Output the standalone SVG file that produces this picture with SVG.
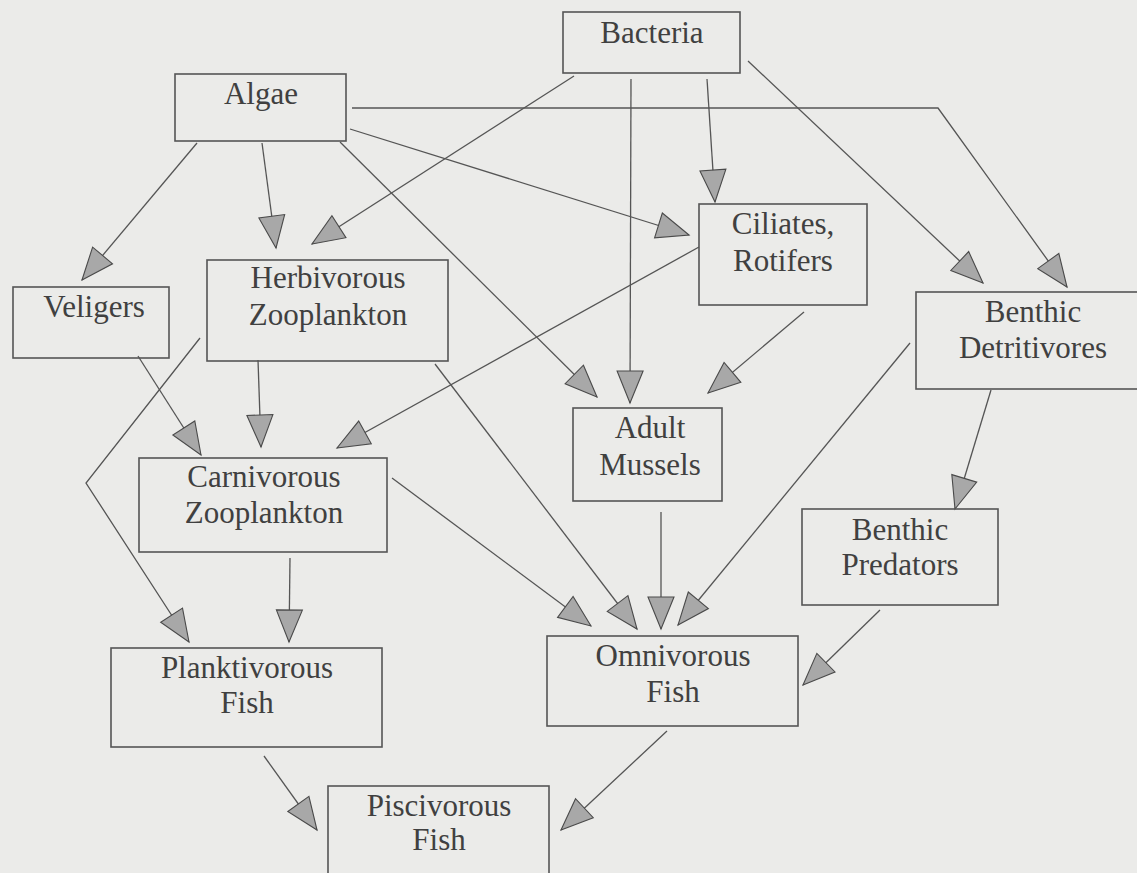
<svg xmlns="http://www.w3.org/2000/svg" width="1137" height="873" viewBox="0 0 1137 873">
  <style>
    .box { fill: none; stroke: #555; stroke-width: 1.6; }
    .lbl { font-family: "Liberation Serif", "Times New Roman", serif; font-size: 31px; fill: #404040; text-anchor: middle; }
    .edge { fill: none; stroke: #555; stroke-width: 1.3; marker-end: url(#arrow); }
  </style>
  <defs>
    <marker id="arrow" markerUnits="userSpaceOnUse" viewBox="-36 -16 40 32" markerWidth="40" markerHeight="32" refX="0" refY="0" orient="auto">
      <path d="M0,0 L-32,-13 L-32,13 Z" fill="#a8a8a8" stroke="#4a4a4a" stroke-width="1.1" stroke-linejoin="miter"/>
    </marker>
  </defs>

  <rect x="0" y="0" width="1137" height="873" fill="#ebebe9"/>

  <!-- feeding links -->
  <g id="connectors">
    <path class="edge" d="M197,143 L82,280"/>
    <path class="edge" d="M262,143 L276,248"/>
    <path class="edge" d="M574,76 L312,244"/>
    <path class="edge" d="M350,129 L689,235"/>
    <path class="edge" d="M340,142 L597,397"/>
    <path class="edge" d="M352,108 L938,108 L1067,287"/>
    <path class="edge" d="M748,61 L983,283"/>
    <path class="edge" d="M707,79 L715,202"/>
    <path class="edge" d="M631,79 L630,403"/>
    <path class="edge" d="M699,247 L337,448"/>
    <path class="edge" d="M804,312 L708,393"/>
    <path class="edge" d="M258,360 L261,447"/>
    <path class="edge" d="M138,356 L201,455"/>
    <path class="edge" d="M200,338 L86,483 L189,642"/>
    <path class="edge" d="M435,364 L637,629"/>
    <path class="edge" d="M392,478 L591,626"/>
    <path class="edge" d="M661,512 L661,629"/>
    <path class="edge" d="M910,343 L678,625"/>
    <path class="edge" d="M991,390 L955,509"/>
    <path class="edge" d="M880,610 L803,685"/>
    <path class="edge" d="M290,558 L289,642"/>
    <path class="edge" d="M264,756 L317,830"/>
    <path class="edge" d="M667,731 L561,830"/>
  </g>

  <g id="bacteria">
    <rect class="box" x="563" y="12" width="177" height="61"/>
    <text class="lbl" x="652" y="43">Bacteria</text>
  </g>
  <g id="algae">
    <rect class="box" x="175" y="74" width="171" height="67"/>
    <text class="lbl" x="261" y="104">Algae</text>
  </g>
  <g id="ciliates-rotifers">
    <rect class="box" x="699" y="204" width="168" height="101"/>
    <text class="lbl" x="783" y="234">Ciliates,</text>
    <text class="lbl" x="783" y="271">Rotifers</text>
  </g>
  <g id="veligers">
    <rect class="box" x="13" y="287" width="156" height="71"/>
    <text class="lbl" x="94" y="317">Veligers</text>
  </g>
  <g id="herbivorous-zooplankton">
    <rect class="box" x="207" y="260" width="241" height="101"/>
    <text class="lbl" x="328" y="288">Herbivorous</text>
    <text class="lbl" x="328" y="325">Zooplankton</text>
  </g>
  <g id="benthic-detritivores">
    <rect class="box" x="916" y="292" width="230" height="97"/>
    <text class="lbl" x="1033" y="322">Benthic</text>
    <text class="lbl" x="1033" y="358">Detritivores</text>
  </g>
  <g id="carnivorous-zooplankton">
    <rect class="box" x="139" y="458" width="248" height="94"/>
    <text class="lbl" x="264" y="487">Carnivorous</text>
    <text class="lbl" x="264" y="523">Zooplankton</text>
  </g>
  <g id="adult-mussels">
    <rect class="box" x="573" y="408" width="149" height="93"/>
    <text class="lbl" x="650" y="438">Adult</text>
    <text class="lbl" x="650" y="475">Mussels</text>
  </g>
  <g id="benthic-predators">
    <rect class="box" x="802" y="509" width="196" height="96"/>
    <text class="lbl" x="900" y="540">Benthic</text>
    <text class="lbl" x="900" y="575">Predators</text>
  </g>
  <g id="planktivorous-fish">
    <rect class="box" x="111" y="648" width="271" height="99"/>
    <text class="lbl" x="247" y="678">Planktivorous</text>
    <text class="lbl" x="247" y="713">Fish</text>
  </g>
  <g id="omnivorous-fish">
    <rect class="box" x="547" y="636" width="251" height="90"/>
    <text class="lbl" x="673" y="666">Omnivorous</text>
    <text class="lbl" x="673" y="702">Fish</text>
  </g>
  <g id="piscivorous-fish">
    <rect class="box" x="328" y="786" width="221" height="100"/>
    <text class="lbl" x="439" y="816">Piscivorous</text>
    <text class="lbl" x="439" y="850">Fish</text>
  </g>
</svg>
